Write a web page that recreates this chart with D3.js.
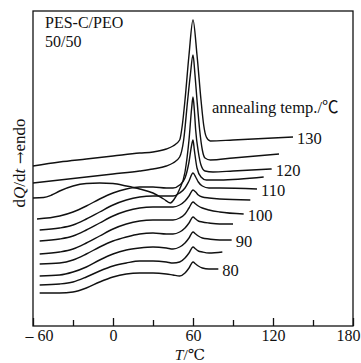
<!DOCTYPE html>
<html><head><meta charset="utf-8">
<script src="https://cdn.jsdelivr.net/npm/d3@7"></script>
<style>
body{margin:0;background:#fff}
svg{display:block}
text{font-family:"Liberation Serif","Times New Roman","Noto Sans CJK JP",serif;fill:#111}
</style>
</head><body>
<svg id="chart" width="361" height="363"></svg>
<script>
// Annealing temperatures (°C) of the DSC traces
const annealTemps = [80, 85, 90, 95, 100, 105, 110, 115, 120, 125, 130];
// Traces: [T (°C), dQ/dt (arbitrary units, curves offset vertically)]
const curve80 = [[-55,33],[-40,33],[-30,34],[-20,38],[-10,44],[0,49],[10,52],[20,53],[30,53],[40,52],[45,51],[50,50],[54,53],[57,58],[60,64],[62,62],[64,60],[67,58],[72,57],[79,57]];
const curve85 = [[-55,41],[-40,42],[-30,44],[-20,49],[-10,55],[0,60],[10,63],[20,65],[30,65],[40,64],[45,63],[50,64],[54,68],[57,73],[60,79],[62,77],[64,75],[67,74],[72,73],[82,74]];
const curve90 = [[-55,50],[-40,51],[-30,54],[-20,59],[-10,66],[0,72],[10,76],[20,78],[30,79],[40,78],[45,77],[50,79],[54,83],[57,88],[60,94],[62,92],[64,90],[67,88],[72,87],[80,86],[89,86]];
const curve95 = [[-55,62],[-40,63],[-30,66],[-20,72],[-10,79],[0,85],[10,89],[20,92],[30,93],[40,92],[45,92],[50,94],[54,98],[57,103],[60,109],[62,107],[64,105],[67,104],[72,103],[80,102],[90,102]];
const curve100 = [[-55,72],[-40,74],[-30,77],[-20,83],[-10,90],[0,97],[10,102],[20,105],[30,106],[40,106],[45,106],[50,108],[54,112],[57,118],[60,124],[62,122],[64,120],[67,118],[72,116],[80,114],[98,112]];
const curve105 = [[-55,85],[-40,87],[-30,90],[-20,96],[-10,103],[0,110],[10,115],[20,118],[30,119],[40,119],[45,119],[50,121],[54,125],[57,130],[60,136],[62,134],[64,131],[67,129],[72,128],[80,127],[103,126]];
const curve110 = [[-55,96],[-40,98],[-30,101],[-20,107],[-10,114],[0,121],[10,126],[20,129],[30,130],[40,130],[45,130],[50,133],[54,138],[57,145],[60,153],[62,149],[64,144],[67,140],[72,138],[80,138],[108,137]];
const curve115 = [[-57,107],[-40,110],[-30,114],[-20,120],[-10,127],[0,133],[10,137],[20,139],[30,139],[40,138],[45,138],[50,141],[54,148],[57,164],[59,181],[60,186],[61,176],[63,158],[66,149],[70,146],[80,146],[113,149]];
const curve120 = [[-60,128],[-52,128.5],[-46,131],[-40,135],[-30,140],[-20,142.5],[-10,143],[0,142.5],[10,140],[20,137],[30,133],[38,127],[43,123],[46,127],[50,137],[54,154],[57,186],[59,218],[60,229],[61,216],[62,196],[64,174],[66,161],[69,155],[75,154],[90,155],[119,157]];
const curve125 = [[-60,143],[-40,146],[-20,149],[0,152],[20,155],[30,157],[40,160],[45,163],[50,169],[53,186],[56,226],[58,251],[60,271],[61.5,251],[63,226],[65,196],[67,176],[69,168],[73,166],[90,168],[124.5,172]];
const curve130 = [[-60,160],[-40,164],[-20,167],[0,170],[20,173],[30,174],[40,177],[45,180],[50,186],[52,201],[54,226],[57,271],[60,306],[63,271],[66,226],[68,201],[70,189],[73,185],[90,186],[135,189]];
const curves = [curve80, curve85, curve90, curve95, curve100, curve105, curve110, curve115, curve120, curve125, curve130];
// Which traces carry a temperature label
const labelledTemps = [80, 90, 100, 110, 120, 130];
// Axis ticks
const xMajorTicks = [-60, 0, 60, 120, 180];
const xMinorTicks = [-30, 30, 90, 150];
const sampleText = ["PES-C/PEO", "50/50"];
const legendTitle = "annealing temp./\u2103";

const svg = d3.select("#chart");
const x = d3.scaleLinear().domain([-60, 180]).range([33, 353]);
const y = d3.scaleLinear().domain([0, 315]).range([326, 11]);

// frame
svg.append("rect").attr("x", 33).attr("y", 11).attr("width", 320).attr("height", 315)
  .attr("fill", "none").attr("stroke", "#111").attr("stroke-width", 1.3);

// axes
const axMajor = d3.axisBottom(x).tickValues(xMajorTicks).tickSizeInner(-8).tickSizeOuter(0).tickPadding(4)
  .tickFormat(d => d < 0 ? "\u2013 " + Math.abs(d) : d);
const gMaj = svg.append("g").attr("transform", "translate(0,326)").call(axMajor);
gMaj.select(".domain").remove();
gMaj.selectAll("line").attr("stroke", "#111").attr("stroke-width", 1.3);
gMaj.selectAll("text").attr("font-size", 16).attr("fill", "#111")
  .style("font-family", '"Liberation Serif","Times New Roman",serif')
  .attr("dx", d => d < 0 ? 6 : (d >= 180 ? -5 : 0));
const axMinor = d3.axisBottom(x).tickValues(xMinorTicks).tickSizeInner(-6).tickSizeOuter(0).tickFormat("");
const gMin = svg.append("g").attr("transform", "translate(0,326)").call(axMinor);
gMin.select(".domain").remove();
gMin.selectAll("line").attr("stroke", "#111").attr("stroke-width", 1.3);

// curves
const line = d3.line().x(d => x(d[0])).y(d => y(d[1])).curve(d3.curveMonotoneX);
svg.append("g").selectAll("path").data(curves).join("path")
  .attr("d", line).attr("fill", "none").attr("stroke", "#111").attr("stroke-width", 1.4);

// curve labels
annealTemps.forEach((t, i) => {
  if (!labelledTemps.includes(t)) return;
  const last = curves[i][curves[i].length - 1];
  svg.append("text").attr("x", x(last[0]) + 4).attr("y", y(last[1]) + 6.5)
    .attr("font-size", 16.5).text(t);
});

// annotations
svg.append("text").attr("x", 45).attr("y", 28).attr("font-size", 16).text(sampleText[0]);
svg.append("text").attr("x", 45).attr("y", 46.5).attr("font-size", 16).text(sampleText[1]);
svg.append("text").attr("x", 212).attr("y", 113).attr("font-size", 16.5).text(legendTitle);

// axis titles
const xt = svg.append("text").attr("x", 190).attr("y", 359.5).attr("font-size", 15.5).attr("text-anchor", "middle");
xt.append("tspan").attr("font-style", "italic").text("T");
xt.append("tspan").text("/");
xt.append("tspan").style("font-family", '"DejaVu Serif","DejaVu Sans",serif').text("\u2103");
const yt = svg.append("text").attr("transform", "translate(25,163) rotate(-90)").attr("font-size", 17).attr("text-anchor", "middle");
yt.append("tspan").text("d");
yt.append("tspan").attr("font-style", "italic").text("Q");
yt.append("tspan").text("/d");
yt.append("tspan").attr("font-style", "italic").text("t");
yt.append("tspan").attr("font-family", '"DejaVu Serif",serif').attr("font-size", 15).text(" \u2192");
yt.append("tspan").text("endo");
</script>
</body></html>
